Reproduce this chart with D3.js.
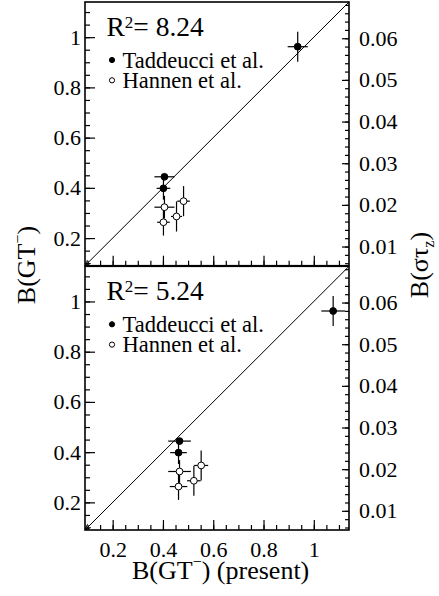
<!DOCTYPE html>
<html>
<head>
<meta charset="utf-8">
<script src="https://cdn.jsdelivr.net/npm/d3@7"></script>
<style>
  body { margin: 0; background: #fff; }
  svg text { font-family: "Liberation Serif", "Times New Roman", serif; fill: #000; }
</style>
</head>
<body>
<div id="wrapper"></div>
<script>
// DATA
const taddY = [0.962, 0.444, 0.398];
const taddYErr = [0.06, 0.01, 0.045];
const hannY = [0.323, 0.263, 0.286, 0.347];
const hannYErr = [0.045, 0.053, 0.06, 0.06];

// top panel: x values / errors
const taddXTop = [0.936, 0.406, 0.402];
const taddXErrTop = [0.04, 0.04, 0.027];
const hannXTop = [0.406, 0.402, 0.454, 0.482];
const hannXErrTop = [0.04, 0.025, 0.022, 0.025];

// bottom panel
const taddXBot = [1.077, 0.466, 0.462];
const taddXErrBot = [0.047, 0.045, 0.033];
const hannXBot = [0.466, 0.462, 0.523, 0.552];
const hannXErrBot = [0.045, 0.035, 0.027, 0.028];

const r2Labels = ["8.24", "5.24"];
const legendLabels = ["Taddeucci et al.", "Hannen et al."];
const xTicks = [0.2, 0.4, 0.6, 0.8, 1.0];
const yTicks = [0.2, 0.4, 0.6, 0.8, 1.0];
const rightTicks = [0.01, 0.02, 0.03, 0.04, 0.05, 0.06];

const serif = '"Liberation Serif", "Times New Roman", serif';

// DIMENSIONS
const width = 439, height = 596;
const frame = { left: 85, right: 349 };
const panelTops = [2, 266.3];
const panelH = 263.7;

const svg = d3.select("#wrapper").append("svg")
  .attr("width", width)
  .attr("height", height);

const domain = [0.09, 1.14];
const rightDomain = [0.0054, 0.0687];

const x = d3.scaleLinear().domain(domain).range([frame.left, frame.right]);

const minorTicks = d3.range(0.1, 1.1001, 0.05).map(d => +d.toFixed(2));
const rightMinor = d3.range(0.006, 0.0681, 0.002).map(d => +d.toFixed(3));

const panels = [
  { tx: taddXTop, txe: taddXErrTop, hx: hannXTop, hxe: hannXErrTop, r2: r2Labels[0] },
  { tx: taddXBot, txe: taddXErrBot, hx: hannXBot, hxe: hannXErrBot, r2: r2Labels[1] }
];

svg.append("defs").append("marker")
  .attr("id", "arrow")
  .attr("viewBox", "0 0 10 10")
  .attr("refX", 10).attr("refY", 5)
  .attr("markerWidth", 6).attr("markerHeight", 6)
  .attr("orient", "auto-start-reverse")
  .append("path")
  .attr("d", "M0,1 L10,5 L0,9")
  .attr("fill", "none")
  .attr("stroke", "#000")
  .attr("stroke-width", 1.4);

panels.forEach((p, i) => {
  const top = panelTops[i];
  const y = d3.scaleLinear().domain(domain).range([top + panelH, top]);
  const yR = d3.scaleLinear().domain(rightDomain).range([top + panelH, top]);
  const g = svg.append("g");

  // left axis
  g.append("g")
    .attr("transform", `translate(${frame.left},0)`)
    .call(d3.axisLeft(y).tickValues(minorTicks).tickSize(-5).tickFormat(""))
    .call(a => a.select(".domain").remove());
  g.append("g")
    .attr("class", "yaxis")
    .attr("transform", `translate(${frame.left},0)`)
    .call(d3.axisLeft(y).tickValues(yTicks).tickSize(-10).tickPadding(4).tickFormat(d3.format("")))
    .call(a => a.select(".domain").remove());

  // right axis
  g.append("g")
    .attr("transform", `translate(${frame.right},0)`)
    .call(d3.axisRight(yR).tickValues(rightMinor).tickSize(-4).tickFormat(""))
    .call(a => a.select(".domain").remove());
  g.append("g")
    .attr("class", "raxis")
    .attr("transform", `translate(${frame.right},0)`)
    .call(d3.axisRight(yR).tickValues(rightTicks).tickSize(-7).tickPadding(10).tickFormat(d3.format(".2f")))
    .call(a => a.select(".domain").remove());

  // bottom axis
  g.append("g")
    .attr("transform", `translate(0,${top + panelH})`)
    .call(d3.axisBottom(x).tickValues(minorTicks).tickSize(-5).tickFormat(""))
    .call(a => a.select(".domain").remove());
  g.append("g")
    .attr("class", "xaxis")
    .attr("transform", `translate(0,${top + panelH})`)
    .call(d3.axisBottom(x).tickValues(xTicks).tickSize(-10).tickPadding(11)
      .tickFormat(i === 1 ? d3.format("") : ""))
    .call(a => a.select(".domain").remove());

  g.selectAll("g").attr("font-family", serif);
  g.selectAll(".tick line").attr("stroke", "#000").attr("stroke-width", 1.2);
  g.selectAll(".tick text")
    .attr("font-family", serif)
    .style("font-size", "22px")
    .attr("fill", "#000");

  // frame
  g.append("rect")
    .attr("x", frame.left).attr("y", top)
    .attr("width", frame.right - frame.left).attr("height", panelH)
    .attr("fill", "none")
    .attr("stroke", "#000")
    .attr("stroke-width", 1.6);

  // diagonal with arrow head at the lower left
  g.append("line")
    .attr("x1", x(domain[1])).attr("y1", y(domain[1]))
    .attr("x2", x(domain[0])).attr("y2", y(domain[0]))
    .attr("stroke", "#000")
    .attr("stroke-width", 1)
    .attr("marker-end", "url(#arrow)");

  // points
  const tadd = taddY.map((v, k) => ({ x: p.tx[k], xe: p.txe[k], y: v, ye: taddYErr[k], filled: true }));
  const hann = hannY.map((v, k) => ({ x: p.hx[k], xe: p.hxe[k], y: v, ye: hannYErr[k], filled: false }));
  const pts = tadd.concat(hann);

  const err = g.append("g").attr("stroke", "#000").attr("stroke-width", 1.2);
  err.selectAll(".ex").data(pts).enter().append("line")
    .attr("x1", d => x(d.x - d.xe)).attr("x2", d => x(d.x + d.xe))
    .attr("y1", d => y(d.y)).attr("y2", d => y(d.y));
  err.selectAll(".ey").data(pts).enter().append("line")
    .attr("x1", d => x(d.x)).attr("x2", d => x(d.x))
    .attr("y1", d => y(d.y - d.ye)).attr("y2", d => y(d.y + d.ye));

  g.selectAll(".pt").data(pts).enter().append("circle")
    .attr("cx", d => x(d.x))
    .attr("cy", d => y(d.y))
    .attr("r", 3.4)
    .attr("fill", d => d.filled ? "#000" : "#fff")
    .attr("stroke", "#000")
    .attr("stroke-width", 1);

  // R^2 label
  const r2 = g.append("text")
    .attr("x", 106.5).attr("y", top + 34)
    .attr("font-family", serif)
    .style("font-size", "27.5px");
  r2.append("tspan").text("R");
  r2.append("tspan").attr("dy", -8).style("font-size", "17px").text("2");
  r2.append("tspan").attr("dy", 8).text("= " + p.r2);

  // legend
  legendLabels.forEach((lab, k) => {
    const ly = top + 58 + k * 20.3;
    g.append("circle")
      .attr("cx", 112).attr("cy", ly)
      .attr("r", 2.6)
      .attr("fill", k === 0 ? "#000" : "#fff")
      .attr("stroke", "#000").attr("stroke-width", 1);
    g.append("text")
      .attr("x", 122.5).attr("y", ly + 7.7)
      .attr("font-family", serif)
      .style("font-size", "22.5px")
      .text(lab);
  });
});

// axis titles
const xt = svg.append("text")
  .attr("x", 132).attr("y", 579)
  .attr("font-family", serif)
  .style("font-size", "26px");
xt.append("tspan").text("B(GT");
xt.append("tspan").attr("dy", -12).style("font-size", "16px").text("\u2212");
xt.append("tspan").attr("dy", 12).text(") (present)");

const yt = svg.append("text")
  .attr("transform", "translate(35,265) rotate(-90)")
  .attr("text-anchor", "middle")
  .attr("font-family", serif)
  .style("font-size", "26px");
yt.append("tspan").text("B(GT");
yt.append("tspan").attr("dy", -12).style("font-size", "16px").text("\u2212");
yt.append("tspan").attr("dy", 12).text(")");

const rt = svg.append("text")
  .attr("transform", "translate(428,265) rotate(-90)")
  .attr("text-anchor", "middle")
  .attr("font-family", serif)
  .style("font-size", "26px");
rt.append("tspan").text("B(\u03c3\u03c4");
rt.append("tspan").attr("dy", 6).style("font-size", "16px").text("z");
rt.append("tspan").attr("dy", -6).text(")");
</script>
</body>
</html>
